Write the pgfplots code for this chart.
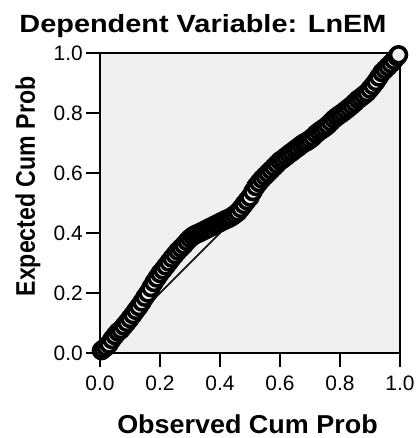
\documentclass[border=0pt]{standalone}
\usepackage{fontspec}
\setmainfont{Liberation Sans}
\usepackage{graphicx}
\usepackage{pgfplots}
\pgfplotsset{compat=1.18}
\definecolor{plotbg}{RGB}{240,240,240}

\begin{document}
\begin{tikzpicture}[x=1bp,y=1bp]
\useasboundingbox (-100bp,-85bp) rectangle (319bp,353bp);
\begin{axis}[
    at={(0,0)}, anchor=south west,
    width=300bp, height=300bp, scale only axis,
    xmin=0, xmax=1, ymin=0, ymax=1,
    axis background/.style={fill=plotbg},
    axis line style={draw=none},
    tick align=outside, tick pos=left,
    major tick length=14bp,
    major tick style={line width=2.4bp, black},
    xtick={0,0.2,0.4,0.6,0.8,1}, ytick={0,0.2,0.4,0.6,0.8,1},
    xticklabels={0.0,0.2,0.4,0.6,0.8,1.0},
    yticklabels={0.0,0.2,0.4,0.6,0.8,1.0},
    tick label style={font=\fontsize{21}{24}\selectfont},
    xticklabel style={inner sep=2bp, yshift=-7bp},
    yticklabel style={inner sep=2bp, xshift=-1bp},
    clip=false,
]
% plot frame: thin top/right, heavy left/bottom
\draw[line width=1.2bp] (rel axis cs:0,1) -- (rel axis cs:1,1) -- (rel axis cs:1,0);
\draw[line width=2.4bp] (rel axis cs:0,1) -- (rel axis cs:0,0) -- (rel axis cs:1,0);

% reference diagonal
\addplot[black, line width=1.6bp] coordinates {(0,0) (1,1)};

% P-P points
\addplot[only marks, mark=*, mark size=8bp,
    mark options={fill=plotbg, draw=black, line width=3.6bp}] coordinates {
(0.005,0.008) (0.01,0.012) (0.02,0.02) (0.03,0.03) (0.04,0.045) (0.05,0.058)
(0.06,0.07) (0.07,0.078) (0.08,0.09) (0.09,0.102) (0.10,0.115) (0.11,0.128)
(0.12,0.142) (0.13,0.155) (0.14,0.17) (0.15,0.186) (0.16,0.2) (0.17,0.218)
(0.18,0.235) (0.19,0.25) (0.20,0.265) (0.21,0.277) (0.22,0.29) (0.23,0.303)
(0.24,0.316) (0.25,0.328) (0.26,0.34) (0.27,0.35) (0.28,0.36) (0.29,0.372)
(0.30,0.382) (0.31,0.39) (0.32,0.396) (0.33,0.4) (0.34,0.405) (0.35,0.41)
(0.36,0.415) (0.37,0.42) (0.38,0.425) (0.39,0.43) (0.40,0.435) (0.41,0.44)
(0.42,0.445) (0.43,0.449) (0.44,0.455) (0.45,0.462) (0.46,0.47) (0.47,0.482)
(0.48,0.495) (0.49,0.508) (0.50,0.52) (0.51,0.538) (0.52,0.555) (0.53,0.568)
(0.54,0.58) (0.55,0.59) (0.56,0.6) (0.57,0.61) (0.58,0.62) (0.59,0.63)
(0.60,0.64) (0.61,0.647) (0.62,0.655) (0.63,0.663) (0.64,0.67) (0.65,0.678)
(0.66,0.685) (0.67,0.693) (0.68,0.7) (0.69,0.705) (0.70,0.712) (0.71,0.72)
(0.72,0.73) (0.73,0.738) (0.74,0.745) (0.75,0.752) (0.76,0.76) (0.77,0.77)
(0.78,0.78) (0.79,0.788) (0.80,0.795) (0.81,0.802) (0.82,0.81) (0.83,0.818)
(0.84,0.826) (0.85,0.835) (0.86,0.845) (0.87,0.852) (0.88,0.86) (0.89,0.868)
(0.90,0.88) (0.91,0.892) (0.92,0.905) (0.93,0.92) (0.94,0.935) (0.95,0.945)
(0.96,0.955) (0.97,0.965) (0.98,0.976) (0.99,0.988) (0.995,0.994)
};
\end{axis}

% title and axis titles (picture is laid out in px: 1px = 1bp)
\node[anchor=base, inner sep=0pt, font=\bfseries\fontsize{25}{30}\selectfont]
    at (103bp,320bp) {\scalebox{1.16}[1]{Dependent Variable: LnEM}};
\node[anchor=base, inner sep=0pt, font=\bfseries\fontsize{26}{31}\selectfont]
    at (147.5bp,-80bp) {\scalebox{1.04}[1]{Observed Cum Prob}};
\node[anchor=base, inner sep=0pt, rotate=90, font=\bfseries\fontsize{27}{32}\selectfont]
    at (-65bp,166.5bp) {\scalebox{0.86}[1]{Expected Cum Prob}};
\end{tikzpicture}
\end{document}
